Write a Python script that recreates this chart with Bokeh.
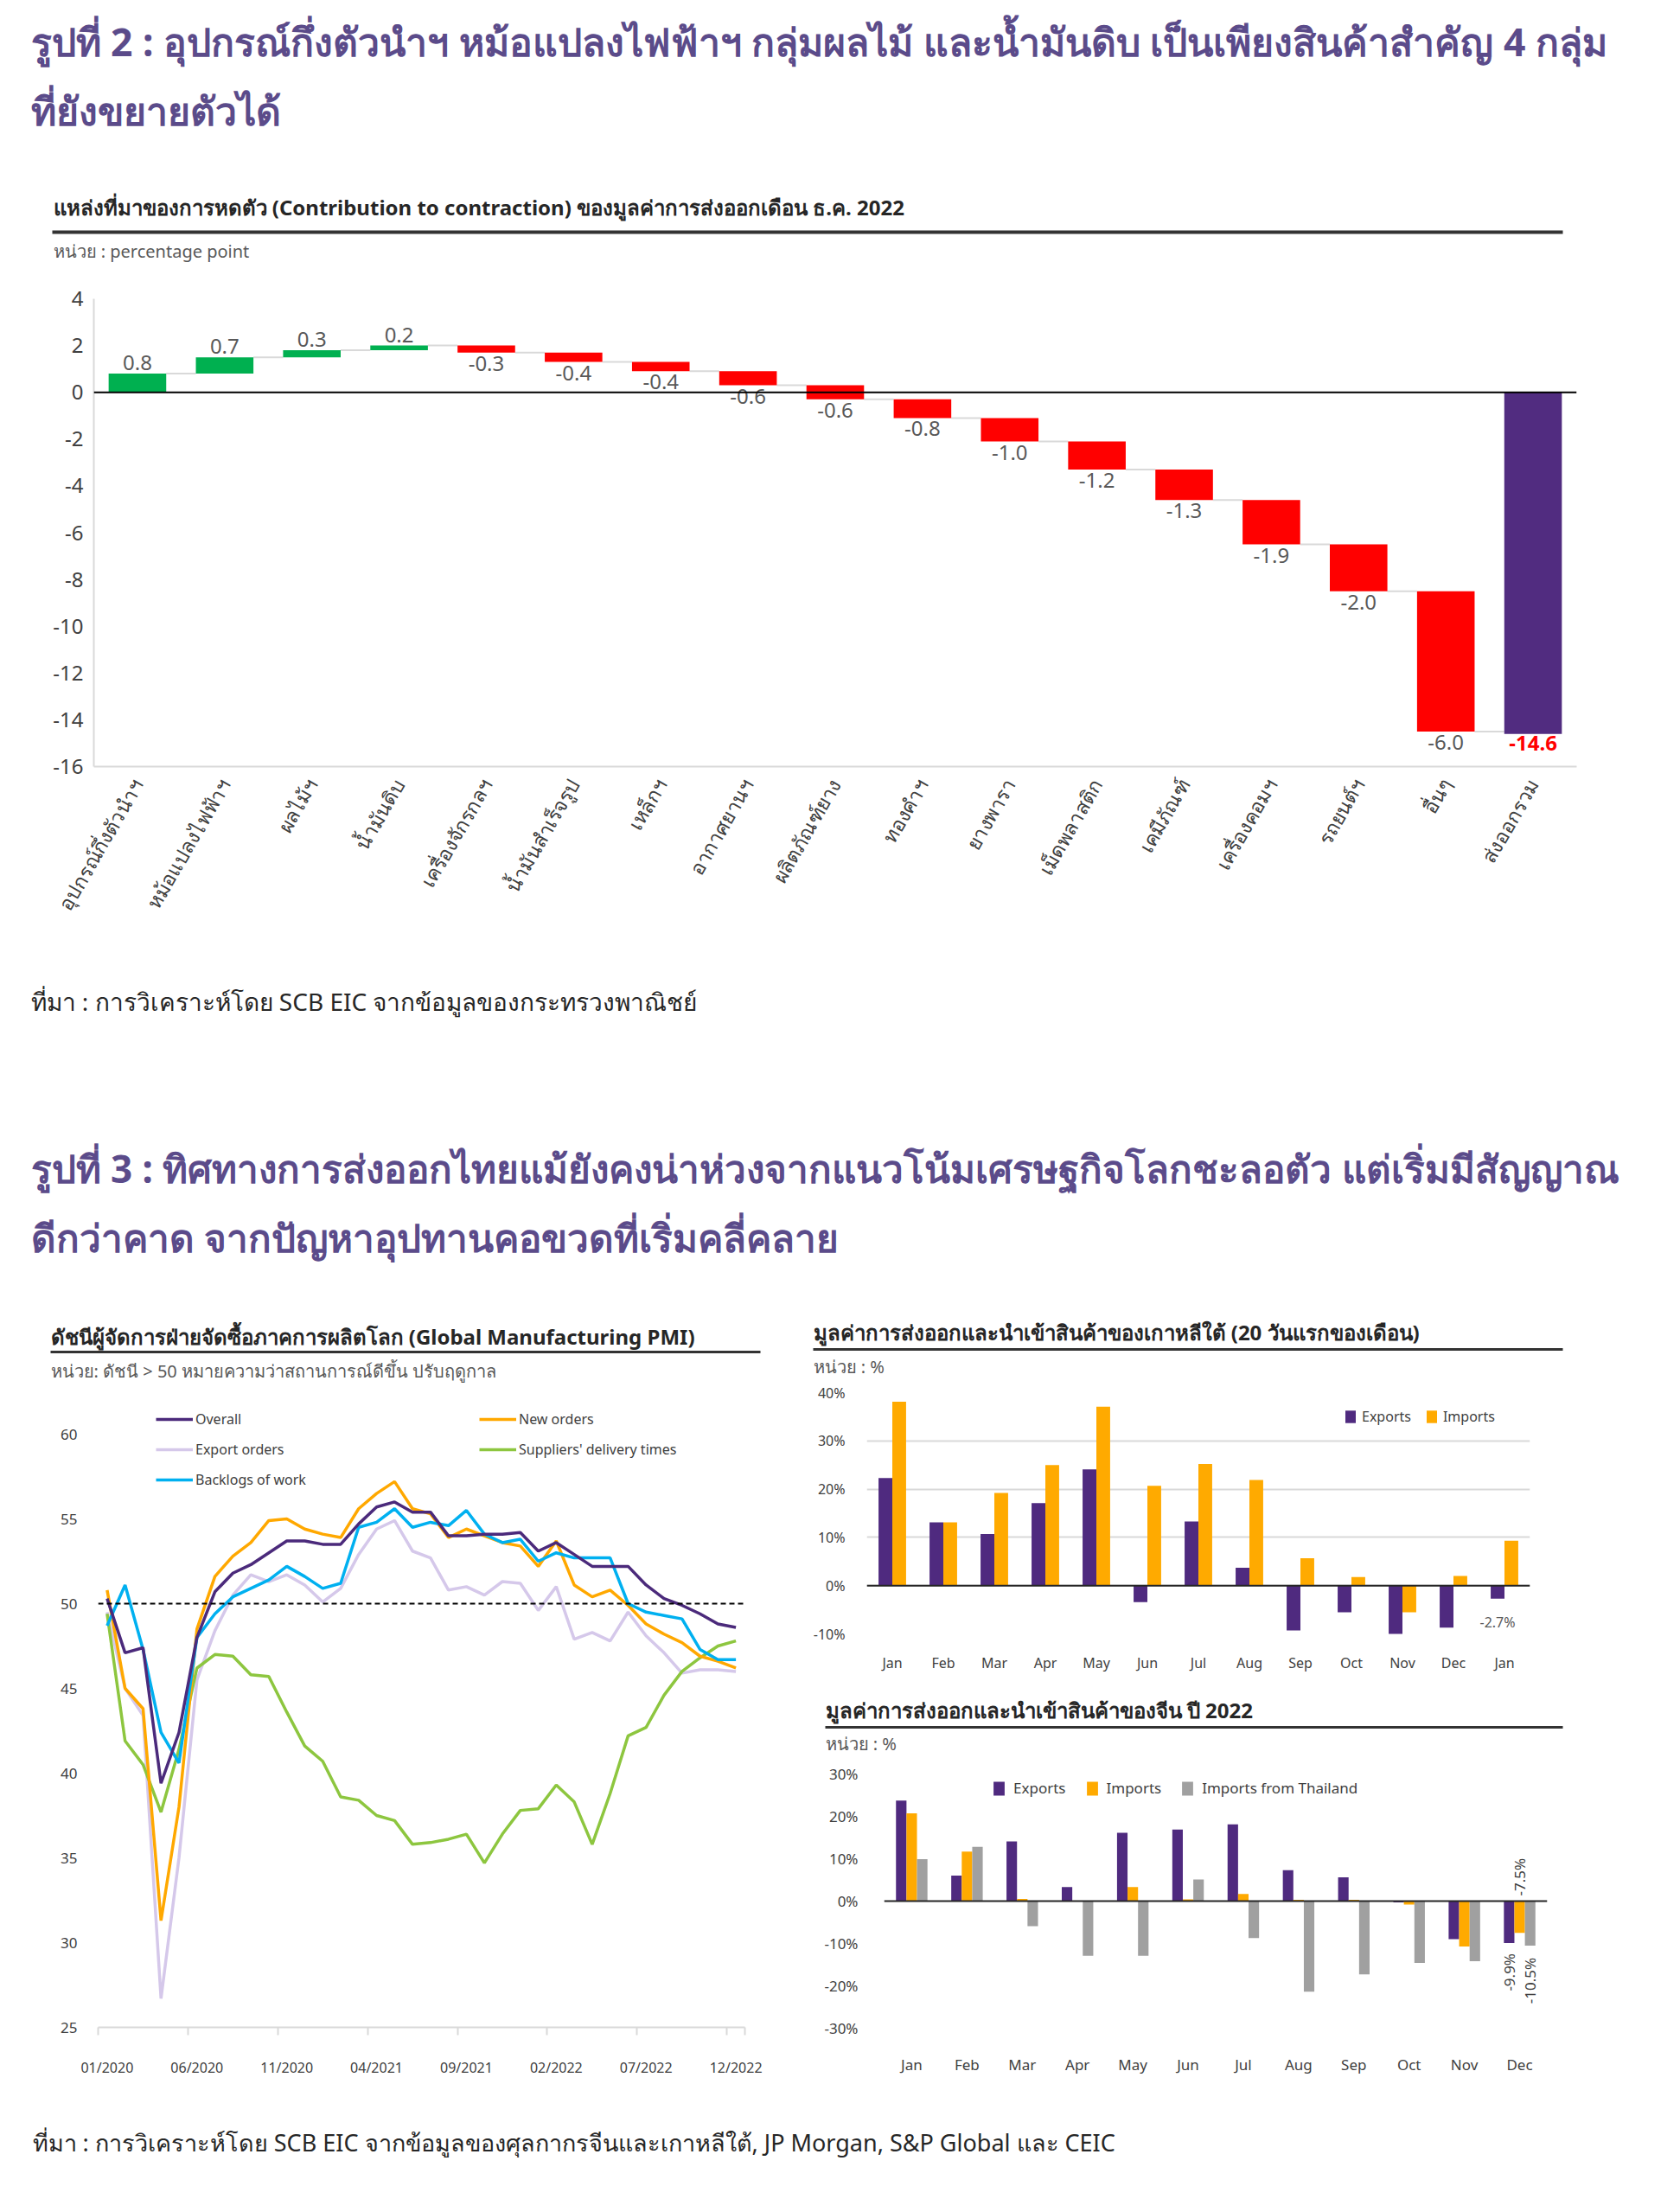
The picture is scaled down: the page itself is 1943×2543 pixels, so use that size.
import math
import numpy as np
from bokeh.plotting import figure
from bokeh.models import (Range1d, FixedTicker, Label, BoxAnnotation, Span, Legend,
                          LegendItem, PrintfTickFormatter)
from bokeh.layouts import column, row
from bokeh.core.properties import value
from bokeh.embed import file_html
from bokeh.resources import INLINE

# ---------------- texts ----------------
title_fig2 = ["รูปที่ 2 : อุปกรณ์กึ่งตัวนำฯ หม้อแปลงไฟฟ้าฯ กลุ่มผลไม้ และน้ำมันดิบ เป็นเพียงสินค้าสำคัญ 4 กลุ่ม",
              "ที่ยังขยายตัวได้"]
wf_title = "แหล่งที่มาของการหดตัว (Contribution to contraction) ของมูลค่าการส่งออกเดือน ธ.ค. 2022"
wf_unit = "หน่วย : percentage point"
wf_source = "ที่มา : การวิเคราะห์โดย SCB EIC จากข้อมูลของกระทรวงพาณิชย์"
title_fig3 = ["รูปที่ 3 : ทิศทางการส่งออกไทยแม้ยังคงน่าห่วงจากแนวโน้มเศรษฐกิจโลกชะลอตัว แต่เริ่มมีสัญญาณ",
              "ดีกว่าคาด จากปัญหาอุปทานคอขวดที่เริ่มคลี่คลาย"]
pmi_title = "ดัชนีผู้จัดการฝ่ายจัดซื้อภาคการผลิตโลก (Global Manufacturing PMI)"
pmi_unit = "หน่วย: ดัชนี > 50 หมายความว่าสถานการณ์ดีขึ้น ปรับฤดูกาล"
kr_title = "มูลค่าการส่งออกและนำเข้าสินค้าของเกาหลีใต้ (20 วันแรกของเดือน)"
kr_unit = "หน่วย : %"
cn_title = "มูลค่าการส่งออกและนำเข้าสินค้าของจีน ปี 2022"
cn_unit = "หน่วย : %"
footer_text = "ที่มา : การวิเคราะห์โดย SCB EIC จากข้อมูลของศุลกากรจีนและเกาหลีใต้, JP Morgan, S&P Global และ CEIC"

# ---------------- data: waterfall ----------------
wf_categories = ["อุปกรณ์กึ่งตัวนำฯ", "หม้อแปลงไฟฟ้าฯ", "ผลไม้ฯ", "น้ำมันดิบ", "เครื่องจักรกลฯ",
                 "น้ำมันสำเร็จรูป", "เหล็กฯ", "อากาศยานฯ", "ผลิตภัณฑ์ยาง", "ทองคำฯ", "ยางพารา",
                 "เม็ดพลาสติก", "เคมีภัณฑ์", "เครื่องคอมฯ", "รถยนต์ฯ", "อื่นๆ"]
wf_values = [0.8, 0.7, 0.3, 0.2, -0.3, -0.4, -0.4, -0.6, -0.6, -0.8, -1.0, -1.2, -1.3, -1.9, -2.0, -6.0]
wf_total_label = "ส่งออกรวม"
wf_total = -14.6
wf_yticks = [-16, -14, -12, -10, -8, -6, -4, -2, 0, 2, 4]

# ---------------- data: PMI ----------------
pmi_tick_labels = ["01/2020", "06/2020", "11/2020", "04/2021", "09/2021", "02/2022", "07/2022", "12/2022"]
pmi_yticks = [25, 30, 35, 40, 45, 50, 55, 60]
pmi_overall = [50.3, 47.1, 47.4, 39.4, 42.4, 48.0, 50.7, 51.8, 52.3, 53.0, 53.7, 53.7,
               53.5, 53.5, 54.7, 55.7, 56.0, 55.4, 55.4, 54.0, 54.0, 54.1, 54.1, 54.2,
               53.1, 53.6, 52.9, 52.2, 52.2, 52.2, 51.1, 50.3, 49.9, 49.4, 48.8, 48.6]
pmi_new_orders = [50.8, 45.0, 43.8, 31.3, 38.0, 48.5, 51.6, 52.8, 53.6, 54.9, 55.0, 54.4,
                  54.1, 53.9, 55.6, 56.5, 57.2, 55.6, 55.3, 53.9, 54.4, 54.0, 53.6, 53.4,
                  52.2, 53.7, 51.1, 50.4, 50.8, 49.9, 48.8, 48.2, 47.7, 46.9, 46.6, 46.2]
pmi_export_orders = [49.5, 45.0, 43.4, 26.7, 35.0, 45.5, 48.4, 50.5, 51.7, 51.3, 51.7, 51.1,
                     50.1, 50.9, 52.9, 54.4, 54.9, 53.1, 52.7, 50.8, 51.0, 50.5, 51.3, 51.2,
                     49.6, 51.0, 47.9, 48.3, 47.8, 49.5, 48.1, 47.1, 45.9, 46.1, 46.1, 46.0]
pmi_suppliers = [49.4, 41.9, 40.5, 37.7, 41.4, 46.2, 47.0, 46.9, 45.8, 45.7, 43.6, 41.6,
                 40.7, 38.6, 38.4, 37.5, 37.2, 35.8, 35.9, 36.1, 36.4, 34.7, 36.4, 37.8,
                 37.9, 39.3, 38.3, 35.8, 38.8, 42.2, 42.7, 44.6, 46.0, 46.8, 47.5, 47.8]
pmi_backlogs = [48.7, 51.1, 47.3, 42.4, 40.6, 48.0, 49.4, 50.4, 50.9, 51.4, 52.2, 51.6,
                50.9, 51.2, 54.5, 54.8, 55.6, 54.5, 54.8, 54.6, 55.5, 54.1, 53.6, 53.8,
                52.5, 53.0, 52.7, 52.7, 52.7, 50.0, 49.5, 49.3, 49.1, 47.3, 46.7, 46.7]

# ---------------- data: Korea ----------------
kr_months = ["Jan", "Feb", "Mar", "Apr", "May", "Jun", "Jul", "Aug", "Sep", "Oct", "Nov", "Dec", "Jan"]
kr_exports = [22.3, 13.1, 10.7, 17.1, 24.1, -3.4, 13.3, 3.7, -9.3, -5.5, -10.2, -8.7, -2.7]
kr_imports = [38.1, 13.1, 19.2, 25.0, 37.1, 20.7, 25.2, 21.9, 5.7, 1.8, -5.5, 2.0, 9.3]
kr_yticks = [-10, 0, 10, 20, 30, 40]

# ---------------- data: China ----------------
cn_months = ["Jan", "Feb", "Mar", "Apr", "May", "Jun", "Jul", "Aug", "Sep", "Oct", "Nov", "Dec"]
cn_exports = [23.7, 6.0, 14.1, 3.3, 16.1, 16.9, 18.1, 7.3, 5.6, -0.3, -9.0, -9.9]
cn_imports = [20.7, 11.7, 0.5, 0.0, 3.3, 0.4, 1.7, 0.3, 0.3, -0.8, -10.7, -7.5]
cn_imports_thai = [9.9, 12.8, -5.9, -12.9, -12.9, 5.1, -8.7, -21.4, -17.3, -14.6, -14.2, -10.5]
cn_yticks = [-30, -20, -10, 0, 10, 20, 30]

# ---------------- styles ----------------
FONT = "Noto Sans"
PURPLE_T = "#5B4B8A"
DARK = "#262626"
AXC = "#404040"
GRID = "#D9D9D9"
C_EXP = "#4F2A7F"
C_IMP = "#FFAA00"
C_THAI = "#A0A0A0"
W = 1927


def text_block(w, h, labels, rules=()):
    f = figure(width=w, height=h, x_range=Range1d(0, w), y_range=Range1d(h, 0),
               x_axis_type=None, y_axis_type=None, title=None, toolbar_location=None,
               output_backend="svg", min_border=0, frame_align=False)
    f.grid.visible = False
    f.outline_line_color = None
    for (x, y, txt, size, color, style) in labels:
        f.add_layout(Label(x=x, y=y, text=txt, text_font=FONT, text_font_size=size,
                           text_color=color, text_font_style=style, text_baseline="middle",
                           text_align="left"))
    for (x0, x1, y, th, color) in rules:
        f.add_layout(BoxAnnotation(left=x0, right=x1, top=y - th / 2, bottom=y + th / 2,
                                   fill_color=color, fill_alpha=1, line_color=None))
    return f


def base_fig(w, h, xr, yr, l, r, t, b):
    f = figure(width=w, height=h, x_range=xr, y_range=yr, title=None, toolbar_location=None,
               output_backend="svg", min_border_left=l, min_border_right=r,
               min_border_top=t, min_border_bottom=b, frame_align=False)
    f.grid.visible = False
    f.outline_line_color = None
    for ax in (f.xaxis[0], f.yaxis[0]):
        ax.major_tick_line_color = None
        ax.minor_tick_line_color = None
        ax.major_tick_out = 0
        ax.major_tick_in = 0
        ax.major_label_text_font = FONT
        ax.major_label_text_color = AXC
    return f


# ---------------- header ----------------
t1 = text_block(W, 215, [
    (35, 47, title_fig2[0], "44.5px", PURPLE_T, "bold"),
    (35, 127, title_fig2[1], "44.5px", PURPLE_T, "bold"),
])
t2 = text_block(W, 102, [
    (61, 24, wf_title, "24px", DARK, "bold"),
    (61, 75, wf_unit, "20px", "#595959", "normal"),
], rules=[(60, 1807, 53, 4, "#333333")])

# ---------------- waterfall ----------------
n = len(wf_values)
vals = np.array(wf_values)
cum = np.cumsum(vals)
start = cum - vals
idx = np.arange(n)
p1 = base_fig(W, 800, Range1d(-0.5, n + 0.5), Range1d(-16, 4), 108, 104, 28, 231)
colors = ["#00B050" if v > 0 else "#FF0000" for v in wf_values]
p1.segment(x0=idx + 0.33, y0=cum, x1=idx + 0.67, y1=cum, line_color=GRID, line_width=2)
p1.vbar(x=idx, width=0.66, top=np.maximum(start, cum), bottom=np.minimum(start, cum),
        fill_color=colors, line_color=None)
p1.vbar(x=[n], width=0.66, top=[0], bottom=[wf_total], fill_color="#512C80", line_color=None)
p1.add_layout(Span(location=0, dimension="width", line_color="black", line_width=2))
pos = vals > 0
p1.text(x=idx[pos], y=cum[pos], text=["%.1f" % v for v in vals[pos]], text_align="center",
        text_baseline="bottom", y_offset=-4, text_font=value(FONT), text_font_size="24px",
        text_color="#595959")
neg = ~pos
p1.text(x=idx[neg], y=cum[neg], text=["%.1f" % v for v in vals[neg]], text_align="center",
        text_baseline="top", y_offset=4, text_font=value(FONT), text_font_size="24px",
        text_color="#595959")
p1.text(x=[n], y=[wf_total], text=["%.1f" % wf_total], text_align="center",
        text_baseline="top", y_offset=2, text_font=value(FONT), text_font_size="24px",
        text_font_style="bold", text_color="#FF0000")
p1.yaxis.ticker = FixedTicker(ticks=wf_yticks)
p1.yaxis.major_label_overrides = {t: str(t) for t in wf_yticks}
p1.yaxis.major_label_text_font_size = "24px"
p1.yaxis.axis_line_color = GRID
p1.yaxis.axis_line_width = 2
p1.yaxis.major_label_standoff = 12
p1.xaxis.ticker = FixedTicker(ticks=list(range(n + 1)))
p1.xaxis.major_label_overrides = {i: c for i, c in enumerate(wf_categories + [wf_total_label])}
p1.xaxis.major_label_orientation = math.radians(60)
p1.xaxis.major_label_text_font_size = "23px"
p1.xaxis.axis_line_color = GRID
p1.xaxis.axis_line_width = 2
p1.xaxis.major_label_standoff = 16

# ---------------- middle text ----------------
t3 = text_block(W, 380, [
    (35, 40, wf_source, "28px", DARK, "normal"),
    (35, 233, title_fig3[0], "44px", PURPLE_T, "bold"),
    (35, 313, title_fig3[1], "44px", PURPLE_T, "bold"),
])

# ---------------- PMI ----------------
pmi_t = text_block(922, 110, [
    (58, 48, pmi_title, "24px", DARK, "bold"),
    (58, 88, pmi_unit, "20px", "#595959", "normal"),
], rules=[(58, 879, 66, 3, "#333333")])
m = len(pmi_overall)
px = np.arange(m)
p2 = base_fig(922, 820, Range1d(-0.5, m - 0.5), Range1d(25, 62.5), 113, 61, 2, 83)
r_exp = p2.line(px, pmi_export_orders, line_color="#D5C8EA", line_width=3.5)
r_sup = p2.line(px, pmi_suppliers, line_color="#8DC63F", line_width=3.5)
r_new = p2.line(px, pmi_new_orders, line_color="#FFA800", line_width=3.5)
r_bac = p2.line(px, pmi_backlogs, line_color="#00B0F0", line_width=3.5)
r_ove = p2.line(px, pmi_overall, line_color="#4B2A7B", line_width=3.5)
p2.add_layout(Span(location=50, dimension="width", line_color="black", line_width=2,
                   line_dash="6 4"))
p2.yaxis.ticker = FixedTicker(ticks=pmi_yticks)
p2.yaxis.axis_line_color = None
p2.yaxis.major_label_text_font_size = "17px"
p2.yaxis.major_label_standoff = 24
ticks = list(range(0, m, 5))
p2.xaxis.ticker = FixedTicker(ticks=ticks, minor_ticks=[t - 0.5 for t in ticks] + [m - 0.5])
p2.xaxis.major_label_overrides = {t: lab for t, lab in zip(ticks, pmi_tick_labels)}
p2.xaxis.axis_line_color = GRID
p2.xaxis.axis_line_width = 2
p2.xaxis.minor_tick_line_color = GRID
p2.xaxis.minor_tick_line_width = 2
p2.xaxis.minor_tick_out = 9
p2.xaxis.minor_tick_in = 0
p2.xaxis.major_label_text_font_size = "16px"
p2.xaxis.major_label_standoff = 26
leg2 = Legend(items=[LegendItem(label="Overall", renderers=[r_ove]),
                     LegendItem(label="New orders", renderers=[r_new]),
                     LegendItem(label="Export orders", renderers=[r_exp]),
                     LegendItem(label="Suppliers' delivery times", renderers=[r_sup]),
                     LegendItem(label="Backlogs of work", renderers=[r_bac])],
              orientation="horizontal", ncols=2, location=(67, 622),
              label_text_font=FONT, label_text_font_size="16px", label_text_color=AXC,
              glyph_width=43, glyph_height=22, label_height=22, label_width=315,
              label_standoff=3, spacing=13, padding=0, margin=0,
              border_line_color=None, background_fill_alpha=0)
p2.add_layout(leg2, "center")

# ---------------- Korea ----------------
kr_t = text_block(1005, 100, [
    (18, 43, kr_title, "24px", DARK, "bold"),
    (18, 83, kr_unit, "20px", "#595959", "normal"),
], rules=[(18, 885, 63, 3, "#333333")])
k = len(kr_exports)
kx = np.arange(k)
p3 = base_fig(1005, 350, Range1d(-0.5, k - 0.5), Range1d(-10, 40), 80, 158, 13, 58)
p3.ygrid.visible = True
p3.ygrid.grid_line_color = GRID
p3.ygrid.grid_line_width = 2
p3.ygrid.ticker = FixedTicker(ticks=kr_yticks)
r_ke = p3.vbar(x=kx - 0.135, width=0.27, top=kr_exports, bottom=0, fill_color=C_EXP, line_color=None)
r_ki = p3.vbar(x=kx + 0.135, width=0.27, top=kr_imports, bottom=0, fill_color=C_IMP, line_color=None)
p3.add_layout(Span(location=0, dimension="width", line_color="#262626", line_width=2))
p3.text(x=[kx[-1] - 0.135], y=[kr_exports[-1]], text=["%.1f%%" % kr_exports[-1]],
        text_align="center", text_baseline="middle", y_offset=27, text_font=value(FONT),
        text_font_size="16px", text_color="#595959")
p3.yaxis.ticker = FixedTicker(ticks=kr_yticks)
p3.yaxis.formatter = PrintfTickFormatter(format="%d%%")
p3.yaxis.axis_line_color = None
p3.yaxis.major_label_text_font_size = "16px"
p3.yaxis.major_label_standoff = 25
p3.xaxis.ticker = FixedTicker(ticks=list(range(k)))
p3.xaxis.major_label_overrides = {i: mname for i, mname in enumerate(kr_months)}
p3.xaxis.axis_line_color = None
p3.xaxis.major_label_text_font_size = "16px"
p3.xaxis.major_label_standoff = 22
leg3 = Legend(items=[LegendItem(label="Exports", renderers=[r_ke]),
                     LegendItem(label="Imports", renderers=[r_ki])],
              orientation="horizontal", location=(552, 240),
              label_text_font=FONT, label_text_font_size="16px", label_text_color=AXC,
              glyph_width=15, glyph_height=18, label_height=20, label_standoff=6,
              spacing=16, padding=0, margin=0, border_line_color=None, background_fill_alpha=0)
p3.add_layout(leg3, "center")

# ---------------- China ----------------
cn_t = text_block(1005, 90, [
    (32, 30, cn_title, "24px", DARK, "bold"),
    (32, 69, cn_unit, "20px", "#595959", "normal"),
], rules=[(32, 885, 50, 3, "#333333")])
c = len(cn_exports)
cx = np.arange(c)
p4 = base_fig(1005, 390, Range1d(-0.5, c - 0.5), Range1d(-30, 30), 100, 138, 14, 82)
r_ce = p4.vbar(x=cx - 0.19, width=0.19, top=cn_exports, bottom=0, fill_color=C_EXP, line_color=None)
r_ci = p4.vbar(x=cx, width=0.19, top=cn_imports, bottom=0, fill_color=C_IMP, line_color=None)
r_ct = p4.vbar(x=cx + 0.19, width=0.19, top=cn_imports_thai, bottom=0, fill_color=C_THAI, line_color=None)
p4.add_layout(Span(location=0, dimension="width", line_color="#262626", line_width=2))
p4.text(x=[cx[-1]], y=[0], text=["%.1f%%" % cn_imports[-1]], angle=math.pi / 2,
        text_align="left", text_baseline="middle", y_offset=-6, text_font=value(FONT),
        text_font_size="17px", text_color=AXC)
p4.text(x=[cx[-1] - 0.19], y=[cn_exports[-1]], text=["%.1f%%" % cn_exports[-1]], angle=math.pi / 2,
        text_align="right", text_baseline="middle", y_offset=12, text_font=value(FONT),
        text_font_size="17px", text_color=AXC)
p4.text(x=[cx[-1] + 0.19], y=[cn_imports_thai[-1]], text=["%.1f%%" % cn_imports_thai[-1]],
        angle=math.pi / 2, text_align="right", text_baseline="middle", y_offset=14,
        text_font=value(FONT), text_font_size="17px", text_color=AXC)
p4.yaxis.ticker = FixedTicker(ticks=cn_yticks)
p4.yaxis.formatter = PrintfTickFormatter(format="%d%%")
p4.yaxis.axis_line_color = None
p4.yaxis.major_label_text_font_size = "17px"
p4.yaxis.major_label_standoff = 30
p4.xaxis.ticker = FixedTicker(ticks=list(range(c)))
p4.xaxis.major_label_overrides = {i: mname for i, mname in enumerate(cn_months)}
p4.xaxis.axis_line_color = None
p4.xaxis.major_label_text_font_size = "17px"
p4.xaxis.major_label_standoff = 30
leg4 = Legend(items=[LegendItem(label="Exports", renderers=[r_ce]),
                     LegendItem(label="Imports", renderers=[r_ci]),
                     LegendItem(label="Imports from Thailand", renderers=[r_ct])],
              orientation="horizontal", location=(125, 266),
              label_text_font=FONT, label_text_font_size="17px", label_text_color=AXC,
              glyph_width=16, glyph_height=20, label_height=20, label_standoff=9,
              spacing=22, padding=0, margin=0, border_line_color=None, background_fill_alpha=0)
p4.add_layout(leg4, "center")

footer = text_block(W, 90, [(37, 50, footer_text, "27px", DARK, "normal")])

layout = column(t1, t2, p1, t3,
                row(column(pmi_t, p2), column(kr_t, p3, cn_t, p4)),
                footer)
open("out.html", "w").write(file_html(layout, INLINE))
